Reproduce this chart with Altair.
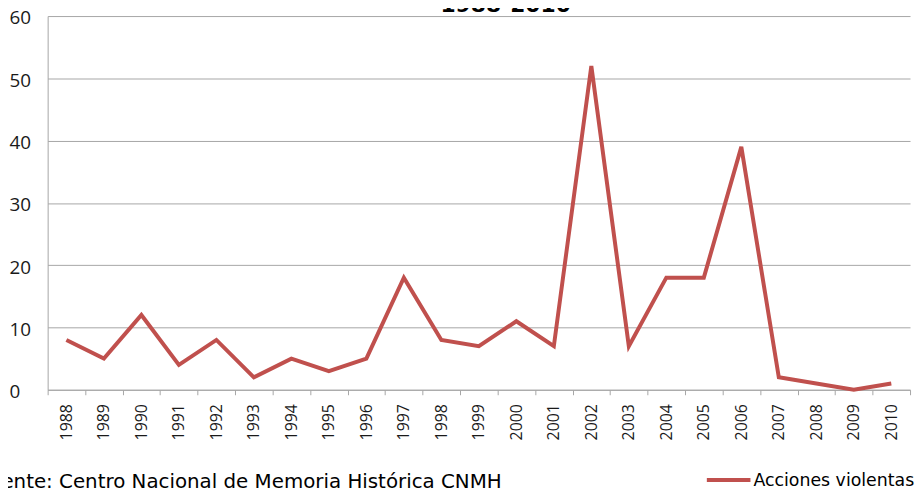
import altair as alt
import pandas as pd

years = ["1988", "1989", "1990", "1991", "1992", "1993", "1994", "1995",
         "1996", "1997", "1998", "1999", "2000", "2001", "2002", "2003",
         "2004", "2005", "2006", "2007", "2008", "2009", "2010"]
values = [8, 5, 12, 4, 8, 2, 5, 3, 5, 18, 8, 7, 11, 7, 52, 7, 18, 18, 39, 2, 1, 0, 1]
y_ticks = [0, 10, 20, 30, 40, 50, 60]
series_name = "Acciones violentas"
title_text = "1988-2010"
source_text = "Fuente: Centro Nacional de Memoria Histórica CNMH"

LINE = "#C0504D"
GRID = "#A6A6A6"
FONT = "Open Sans"
WIDE = "DejaVu Sans"
TXT = "#1a1a1a"

df = pd.DataFrame({"year": years, "value": values, "serie": series_name})

line = alt.Chart(df).mark_line(color=LINE, strokeWidth=4, strokeJoin="miter").encode(
    x=alt.X("year:O", sort=years, bandPosition=0.5,
            scale=alt.Scale(type="band", paddingInner=0, paddingOuter=0),
            axis=alt.Axis(title=None, labelAngle=-90, labelAlign="right",
                          labelBaseline="middle", tickBand="extent", tickSize=5,
                          labelPadding=9, labelFontSize=16, grid=False,
                          domainColor=GRID, tickColor=GRID)),
    y=alt.Y("value:Q", scale=alt.Scale(domain=[0, 60], nice=False),
            axis=alt.Axis(title=None, values=y_ticks, ticks=False, tickSize=0,
                          labelAlign="left", labelPadding=39, labelFontSize=19,
                          labelOffset=2, gridColor=GRID, domainColor=GRID)),
)

title = alt.Chart(pd.DataFrame({"t": [title_text]})).mark_text(
    font=WIDE, fontSize=22, fontWeight="bold", color="#000000",
    align="center", baseline="alphabetic"
).encode(text="t:N", x=alt.value(462), y=alt.value(-4))

source = alt.Chart(pd.DataFrame({"t": [source_text]})).mark_text(
    font=WIDE, fontSize=20, color="#000000", align="right", baseline="alphabetic"
).encode(text="t:N", x=alt.value(458), y=alt.value(476))

leg_line = alt.Chart(pd.DataFrame({"t": [series_name]})).mark_rule(
    color=LINE, strokeWidth=4
).encode(x=alt.value(665), x2=alt.value(709), y=alt.value(468))

leg_text = alt.Chart(pd.DataFrame({"t": [series_name]})).mark_text(
    font=WIDE, fontSize=17.5, color="#000000", align="left", baseline="alphabetic"
).encode(text="t:N", x=alt.value(712), y=alt.value(474))

chart = alt.layer(line, title, source, leg_line, leg_text).properties(
    width=870, height=377,
    autosize=alt.AutoSizeParams(type="none"),
    padding={"left": 40, "top": 6, "right": 5, "bottom": 101},
).configure_view(stroke="transparent").configure_axis(
    labelFont=FONT, labelColor=TXT
)

chart.save("out.html", embed_options={"renderer": "svg", "actions": False})
